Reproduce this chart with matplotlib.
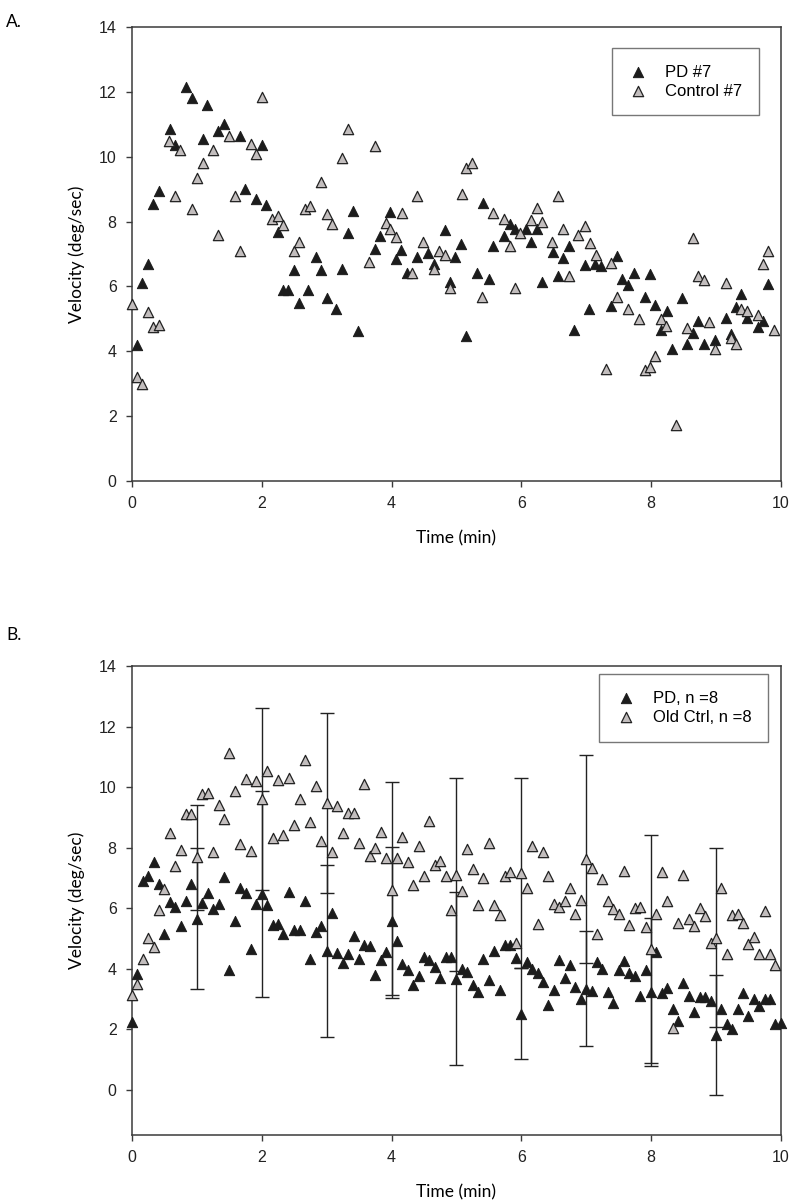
import matplotlib
matplotlib.use("Agg")
import matplotlib.pyplot as plt
import numpy as np

# ---- panel A: one subject pair (time in min, velocity in deg/sec)
pd7_t = [0.08, 0.16, 0.25, 0.33, 0.42, 0.58, 0.66, 0.83, 0.92, 1.09,
         1.16, 1.33, 1.42, 1.66, 1.74, 1.91, 2.0, 2.07, 2.25, 2.32,
         2.41, 2.49, 2.58, 2.72, 2.83, 2.91, 3.0, 3.15, 3.24, 3.33,
         3.41, 3.49, 3.74, 3.82, 3.98, 4.07, 4.15, 4.24, 4.4, 4.56,
         4.65, 4.82, 4.9, 4.98, 5.07, 5.15, 5.32, 5.41, 5.5, 5.56,
         5.73, 5.82, 5.9, 6.07, 6.15, 6.24, 6.32, 6.49, 6.56, 6.65,
         6.73, 6.82, 6.98, 7.05, 7.14, 7.23, 7.39, 7.48, 7.56, 7.65,
         7.74, 7.9, 7.98, 8.06, 8.15, 8.24, 8.32, 8.48, 8.56, 8.65,
         8.73, 8.82, 8.98, 9.15, 9.23, 9.31, 9.39, 9.48, 9.65, 9.73, 9.81]
pd7_v = [4.2, 6.1, 6.7, 8.55, 8.95, 10.85, 10.35, 12.15, 11.8, 10.55,
         11.6, 10.8, 11.0, 10.65, 9.0, 8.7, 10.35, 8.5, 7.67, 5.88,
         5.88, 6.5, 5.5, 5.9, 6.9, 6.5, 5.65, 5.3, 6.55, 7.64,
         8.33, 4.62, 7.15, 7.56, 8.29, 6.84, 7.13, 6.43, 6.92, 7.03,
         6.7, 7.74, 6.15, 6.9, 7.31, 4.48, 6.43, 8.57, 6.23, 7.26,
         7.56, 7.92, 7.77, 7.77, 7.38, 7.77, 6.15, 7.06, 6.31, 6.87,
         7.25, 4.67, 6.67, 5.3, 6.7, 6.64, 5.4, 6.94, 6.23, 6.05,
         6.43, 5.67, 6.39, 5.44, 4.65, 5.25, 4.08, 5.64, 4.24, 4.57,
         4.95, 4.24, 4.36, 5.03, 4.54, 5.37, 5.77, 5.03, 4.75, 4.95, 6.07]

ctl7_t = [0.0, 0.08, 0.16, 0.25, 0.33, 0.42, 0.57, 0.66, 0.74, 0.92,
          1.0, 1.09, 1.25, 1.33, 1.5, 1.58, 1.66, 1.83, 1.91, 2.0,
          2.16, 2.25, 2.32, 2.5, 2.58, 2.67, 2.75, 2.91, 3.0, 3.09,
          3.24, 3.33, 3.65, 3.74, 3.91, 3.98, 4.07, 4.16, 4.32, 4.39,
          4.48, 4.65, 4.73, 4.82, 4.9, 5.08, 5.15, 5.24, 5.4, 5.56,
          5.73, 5.82, 5.9, 5.98, 6.15, 6.24, 6.32, 6.47, 6.56, 6.65,
          6.73, 6.87, 6.98, 7.06, 7.15, 7.31, 7.39, 7.48, 7.65, 7.82,
          7.9, 7.98, 8.06, 8.15, 8.23, 8.39, 8.56, 8.65, 8.73, 8.82,
          8.9, 8.98, 9.15, 9.23, 9.31, 9.39, 9.48, 9.65, 9.72, 9.81, 9.89]
ctl7_v = [5.45, 3.2, 3.0, 5.2, 4.75, 4.8, 10.5, 8.8, 10.2, 8.4,
          9.35, 9.8, 10.2, 7.6, 10.65, 8.8, 7.08, 10.4, 10.1, 11.85,
          8.07, 8.17, 7.9, 7.1, 7.38, 8.4, 8.48, 9.23, 8.23, 7.93,
          9.97, 10.87, 6.75, 10.34, 7.95, 7.77, 7.54, 8.26, 6.43, 8.8,
          7.38, 6.54, 7.08, 6.98, 5.95, 8.84, 9.66, 9.8, 5.67, 8.28,
          8.08, 7.25, 5.95, 7.64, 8.05, 8.41, 8.0, 7.38, 8.8, 7.78,
          6.31, 7.59, 7.87, 7.34, 6.98, 3.46, 6.72, 5.67, 5.3, 5.0,
          3.42, 3.52, 3.85, 5.0, 4.79, 1.74, 4.72, 7.49, 6.33, 6.21,
          4.89, 4.07, 6.12, 4.41, 4.24, 5.3, 5.25, 5.13, 6.7, 7.1, 4.65]

# ---- panel B: group means, one sample every 5 s
pd_grp = [2.24, 3.83, 6.91, 7.05, 7.52, 6.8, 5.13, 6.2, 6.03, 5.4, 6.23, 6.8,
          5.65, 6.17, 6.5, 5.98, 6.12, 7.02, 3.94, 5.57, 6.67, 6.5, 4.66, 6.12,
          6.47, 6.09, 5.43, 5.48, 5.15, 6.53, 5.26, 5.26, 6.25, 4.33, 5.21, 5.4,
          4.58, 5.84, 4.52, 4.19, 4.47, 5.08, 4.33, 4.77, 4.75, 3.8, 4.27, 4.55,
          5.57, 4.91, 4.14, 3.94, 3.47, 3.75, 4.38, 4.27, 4.05, 3.7, 4.38, 4.38,
          3.67, 4.0, 3.89, 3.45, 3.23, 4.33, 3.64, 4.58, 3.28, 4.77, 4.77, 4.36,
          2.51, 4.22, 4.0, 3.85, 3.56, 2.79, 3.28, 4.27, 3.68, 4.11, 3.39, 3.01,
          3.34, 3.26, 4.22, 4.0, 3.23, 2.87, 3.94, 4.25, 3.85, 3.75, 3.09, 3.96,
          3.23, 4.55, 3.19, 3.37, 2.65, 2.27, 3.52, 3.11, 2.55, 3.06, 3.06, 2.93,
          1.8, 2.65, 2.18, 2.0, 2.65, 3.21, 2.43, 2.99, 2.77, 2.99, 2.99, 2.18,
          2.2]
ctrl_grp = [3.14, 3.48, 4.31, 5.02, 4.71, 5.95, 6.64, 8.48, 7.38, 7.93, 9.11, 9.11,
            7.68, 9.77, 9.82, 7.87, 9.42, 8.95, 11.12, 9.88, 8.12, 10.27, 7.9, 10.19,
            9.61, 10.54, 8.32, 10.24, 8.4, 10.3, 8.73, 9.62, 10.9, 8.84, 10.02, 8.21,
            9.47, 7.85, 9.36, 8.48, 9.14, 9.14, 8.15, 10.1, 7.71, 7.98, 8.53, 7.66,
            6.6, 7.66, 8.34, 7.52, 6.75, 8.04, 7.05, 8.89, 7.41, 7.57, 7.05, 5.95,
            7.11, 6.55, 7.96, 7.3, 6.11, 7.0, 8.15, 6.09, 5.76, 7.05, 7.19, 4.86,
            7.16, 6.67, 8.04, 5.48, 7.85, 7.06, 6.12, 6.05, 6.22, 6.67, 5.81, 6.28,
            7.61, 7.33, 5.13, 6.97, 6.23, 5.98, 5.79, 7.22, 5.43, 6.0, 6.03, 5.37,
            4.66, 5.79, 7.19, 6.25, 2.05, 5.5, 7.08, 5.65, 5.4, 6.0, 5.73, 4.86,
            5.02, 6.66, 4.47, 5.76, 5.81, 5.5, 4.8, 5.04, 4.47, 5.92, 4.47, 4.11]

# SD bars at whole minutes
err_min = [1, 2, 3, 4, 5, 6, 7, 8, 9]
pd_sd = [2.33, 3.4, 2.85, 2.45, 2.85, 1.5, 1.9, 2.45, 1.98]
ctrl_sd = [1.73, 3.0, 2.98, 3.56, 3.2, 3.14, 3.44, 3.77, 2.95]

pd_t = np.arange(len(pd_grp)) / 12
ctrl_t = np.arange(len(ctrl_grp)) / 12
pd_mean = [pd_grp[m * 12] for m in err_min]
ctrl_mean = [ctrl_grp[m * 12] for m in err_min]

tick_font = "Liberation Sans"
label_font = "Lato"
dark = "#1c1c1c"
grey = "#c2bdbd"
spine_col = "#3a3a3a"

fig = plt.figure(figsize=(8, 12.02), dpi=100)
axA = fig.add_axes([0.165, 0.5998, 0.811, 0.3777])
axB = fig.add_axes([0.165, 0.0557, 0.811, 0.3902])


def style(ax, ylo):
    ax.set_xlim(0, 10)
    ax.set_ylim(ylo, 14)
    ax.set_xticks(range(0, 11, 2))
    ax.set_yticks(range(0, 15, 2))
    for s in ax.spines.values():
        s.set_color(spine_col)
        s.set_linewidth(1.1)
    ax.tick_params(direction="out", length=4, width=1, color=spine_col,
                   labelsize=11.5, pad=7, top=False, right=False)
    for lab in ax.get_xticklabels() + ax.get_yticklabels():
        lab.set_fontfamily(tick_font)
        lab.set_color("#222222")
    ax.set_xlabel("Time (min)", fontfamily=label_font, fontsize=12.5, labelpad=14)
    ax.set_ylabel("Velocity (deg/sec)", fontfamily=label_font, fontsize=12.5, labelpad=10)


def legend(ax, anchor):
    leg = ax.legend(loc="upper right", bbox_to_anchor=anchor, borderaxespad=0,
                    frameon=True, fancybox=False, handlelength=1.2,
                    handletextpad=1.0, borderpad=1.0, labelspacing=0.25,
                    prop={"family": tick_font, "size": 12})
    leg.get_frame().set_edgecolor("#555555")
    leg.get_frame().set_linewidth(1.0)


ms = 55
axA.scatter(pd7_t, pd7_v, s=ms, marker="^", c=dark, edgecolors=dark,
            linewidths=0.7, label="PD #7", zorder=3, clip_on=False)
axA.scatter(ctl7_t, ctl7_v, s=ms, marker="^", c=grey, edgecolors="#222222",
            linewidths=0.9, label="Control #7", zorder=3, clip_on=False)
style(axA, 0)
legend(axA, (0.966, 0.954))

axB.errorbar(err_min, ctrl_mean, yerr=ctrl_sd, fmt="none", ecolor="#222222",
             elinewidth=1, capsize=5, capthick=1, zorder=2)
axB.errorbar(err_min, pd_mean, yerr=pd_sd, fmt="none", ecolor="#222222",
             elinewidth=1, capsize=5, capthick=1, zorder=2)
axB.scatter(pd_t, pd_grp, s=ms, marker="^", c=dark, edgecolors=dark,
            linewidths=0.7, label="PD, n =8", zorder=3, clip_on=False)
axB.scatter(ctrl_t, ctrl_grp, s=ms, marker="^", c=grey, edgecolors="#222222",
            linewidths=0.9, label="Old Ctrl, n =8", zorder=3, clip_on=False)
style(axB, -1.5)
legend(axB, (0.98, 0.983))

fig.text(0.008, 0.988, "A.", fontfamily=label_font, fontsize=12.5, va="top")
fig.text(0.008, 0.478, "B.", fontfamily=label_font, fontsize=12.5, va="top")

fig.savefig("out.png", dpi=100)
